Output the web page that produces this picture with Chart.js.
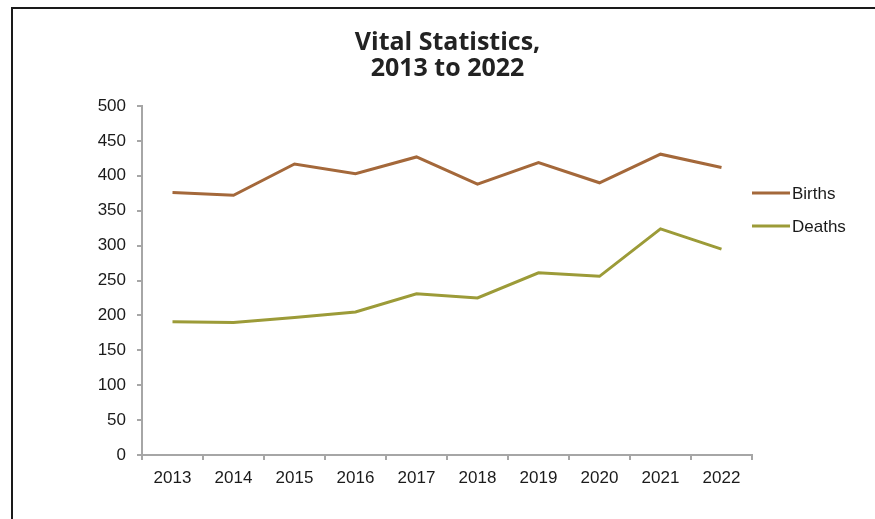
<!DOCTYPE html>
<html>
<head>
<meta charset="utf-8">
<script src="https://cdn.jsdelivr.net/npm/chart.js@4/dist/chart.umd.min.js"></script>
<style>
  html, body { margin: 0; padding: 0; background: #fff; }
  #wrap { position: relative; width: 875px; height: 519px; overflow: hidden; }
  #frame {
    position: absolute; left: 11px; top: 7px; width: 900px; height: 600px;
    border: 2px solid #1a1a1a; box-sizing: border-box;
  }
  #chart { position: absolute; left: 0; top: 0; }
</style>
</head>
<body>
<div id="wrap">
  <div id="frame"></div>
  <canvas id="chart" width="875" height="519"></canvas>
</div>
<script>
// Data
const years = ['2013', '2014', '2015', '2016', '2017', '2018', '2019', '2020', '2021', '2022'];
const births = [376, 372, 417, 403, 427, 388, 419, 390, 431, 412];
const deaths = [191, 190, 197, 205, 231, 225, 261, 256, 324, 295];
const yTicks = [0, 50, 100, 150, 200, 250, 300, 350, 400, 450, 500];

const labelFont = { family: '"Liberation Sans", Arial, sans-serif', size: 17 };
const axisGrey = '#a6a6a6';

// Legend drawn to the right of the plot, like the original
const sideLegend = {
  id: 'sideLegend',
  afterDraw(chart) {
    const { ctx, chartArea } = chart;
    const rows = [87, 120];
    ctx.save();
    chart.data.datasets.forEach((ds, i) => {
      const y = chartArea.top + rows[i];
      ctx.strokeStyle = ds.borderColor;
      ctx.lineWidth = 3;
      ctx.beginPath();
      ctx.moveTo(chartArea.right, y);
      ctx.lineTo(chartArea.right + 38, y);
      ctx.stroke();
      ctx.fillStyle = '#1a1a1a';
      ctx.font = `${labelFont.size}px ${labelFont.family}`;
      ctx.textBaseline = 'middle';
      ctx.fillText(ds.label, chartArea.right + 40, y + 1);
    });
    ctx.restore();
  }
};

new Chart(document.getElementById('chart'), {
  type: 'line',
  data: {
    labels: years,
    datasets: [
      { label: 'Births', data: births, borderColor: '#a4683a', borderWidth: 3, pointRadius: 0, tension: 0 },
      { label: 'Deaths', data: deaths, borderColor: '#9c9b38', borderWidth: 3, pointRadius: 0, tension: 0 }
    ]
  },
  options: {
    responsive: false,
    animation: false,
    layout: { padding: { left: 20, right: 0, top: 0, bottom: 0 } },
    plugins: {
      legend: { display: false },
      tooltip: { enabled: false },
      title: {
        display: true,
        text: ['Vital Statistics,', '2013 to 2022'],
        color: '#222',
        font: { family: '"Open Sans", sans-serif', size: 25, weight: 'bold', lineHeight: 1.04 },
        padding: { top: 30, bottom: 24 }
      }
    },
    scales: {
      x: {
        offset: true,
        grid: { display: true, offset: true, drawOnChartArea: false, drawTicks: true, tickLength: 5, color: axisGrey, lineWidth: 2 },
        border: { display: true, color: axisGrey, width: 2 },
        ticks: { color: '#1a1a1a', font: labelFont, padding: 8, maxRotation: 0 },
        afterFit: s => { s.height = 64; }
      },
      y: {
        min: 0,
        max: 500,
        afterBuildTicks: s => { s.ticks = yTicks.map(v => ({ value: v })); },
        grid: { display: true, drawOnChartArea: false, drawTicks: true, tickLength: 5, color: axisGrey, lineWidth: 2 },
        border: { display: true, color: axisGrey, width: 2 },
        ticks: { color: '#1a1a1a', font: labelFont, padding: 11 },
        afterFit: s => { s.width = 122; }
      },
      // empty axis on the right that only reserves room for the legend
      yRight: {
        position: 'right',
        grid: { display: false },
        border: { display: false },
        ticks: { display: false },
        afterFit: s => { s.width = 123; }
      }
    }
  },
  plugins: [sideLegend]
});
</script>
</body>
</html>
